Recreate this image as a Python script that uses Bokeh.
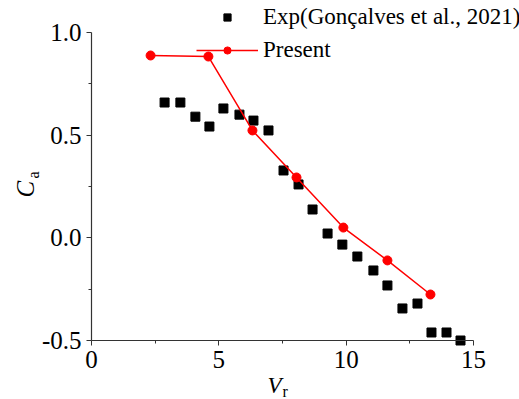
from bokeh.plotting import figure
from bokeh.models import Label, Legend, LegendItem, NumeralTickFormatter, FixedTicker, Range1d
from bokeh.embed import file_html
from bokeh.resources import INLINE

exp_vr = [2.87, 3.49, 4.08, 4.63, 5.18, 5.81, 6.36, 6.95, 7.54, 8.13, 8.68, 9.27,
          9.85, 10.44, 11.07, 11.62, 12.21, 12.80, 13.35, 13.94, 14.49]
exp_ca = [0.659, 0.659, 0.59, 0.542, 0.63, 0.60, 0.571, 0.523, 0.328, 0.26, 0.138, 0.021,
          -0.033, -0.091, -0.159, -0.232, -0.344, -0.32, -0.461, -0.461, -0.50]
pre_vr = [2.32, 4.59, 6.32, 8.05, 9.89, 11.62, 13.31]
pre_ca = [0.888, 0.883, 0.523, 0.294, 0.05, -0.11, -0.276]
x_ticks = [0, 5, 10, 15]
x_minor = [2.5, 7.5, 12.5]
y_ticks = [-0.5, 0.0, 0.5, 1.0]
y_minor = [-0.25, 0.25, 0.75]

FONT = "Liberation Serif"
W, H = 519, 399
# plot area in pixels: x 0..15 -> 91..473, y 1.0..-0.5 -> 32..340
PX_X = 382 / 15.0
PX_Y = 308 / 1.5
x_range = Range1d(0 - 91 / PX_X, 15 + (W - 473) / PX_X)
y_range = Range1d(-0.5 - (H - 340) / PX_Y, 1.0 + 32 / PX_Y)

p = figure(frame_width=W, frame_height=H, min_border=0, output_backend="svg",
           toolbar_location=None, x_range=x_range, y_range=y_range)
p.outline_line_color = None
p.grid.visible = False
p.background_fill_color = "white"
p.border_fill_color = "white"

for ax in (p.xaxis[0], p.yaxis[0]):
    ax.axis_line_color = "#333333"
    ax.axis_line_width = 1.2
    ax.major_tick_line_color = "#333333"
    ax.minor_tick_line_color = "#333333"
    ax.major_tick_out = 5
    ax.major_tick_in = 0
    ax.minor_tick_out = 3
    ax.minor_tick_in = 0
    ax.major_label_text_font = FONT
    ax.major_label_text_font_size = "25px"
    ax.major_label_text_color = "black"
    ax.major_label_standoff = 5

p.xaxis[0].ticker = FixedTicker(ticks=x_ticks, minor_ticks=x_minor)
p.xaxis[0].bounds = (0, 15)
p.xaxis[0].fixed_location = -0.5
p.yaxis[0].ticker = FixedTicker(ticks=y_ticks, minor_ticks=y_minor)
p.yaxis[0].bounds = (-0.5, 1.0)
p.yaxis[0].fixed_location = 0
p.yaxis[0].formatter = NumeralTickFormatter(format="0.0")

r_exp = p.scatter(exp_vr, exp_ca, marker="square", size=9, color="black")
r_line = p.line(pre_vr, pre_ca, line_color="red", line_width=1.5)
r_pts = p.scatter(pre_vr, pre_ca, marker="circle", size=9, color="red")

legend = Legend(items=[LegendItem(label="Exp(Gonçalves et al., 2021)", renderers=[r_exp]),
                       LegendItem(label="Present", renderers=[r_line, r_pts])],
                location=(196, H - 66), orientation="vertical",
                label_text_font=FONT, label_text_font_size="23px", label_text_color="black",
                glyph_width=62, glyph_height=18, label_height=33, spacing=0,
                padding=0, margin=0, border_line_color=None, background_fill_alpha=0,
                label_standoff=5)
p.add_layout(legend, "center")

# axis titles (screen pixels, origin bottom-left of the canvas)
p.add_layout(Label(x=267, y=H - 385, x_units="screen", y_units="screen", text="V",
                   text_font=FONT, text_font_style="italic", text_font_size="23px",
                   text_color="black", text_baseline="alphabetic"))
p.add_layout(Label(x=282, y=H - 391, x_units="screen", y_units="screen", text="r",
                   text_font=FONT, text_font_size="16px", text_color="black",
                   text_baseline="alphabetic"))
p.add_layout(Label(x=25, y=H - 197, x_units="screen", y_units="screen", text="C",
                   text_font=FONT, text_font_style="italic", text_font_size="25px",
                   text_color="black", angle=1.5708, text_baseline="alphabetic"))
p.add_layout(Label(x=33, y=H - 178, x_units="screen", y_units="screen", text="a",
                   text_font=FONT, text_font_size="16px", text_color="black",
                   angle=1.5708, text_baseline="alphabetic"))

open("out.html", "w").write(file_html(p, INLINE))
